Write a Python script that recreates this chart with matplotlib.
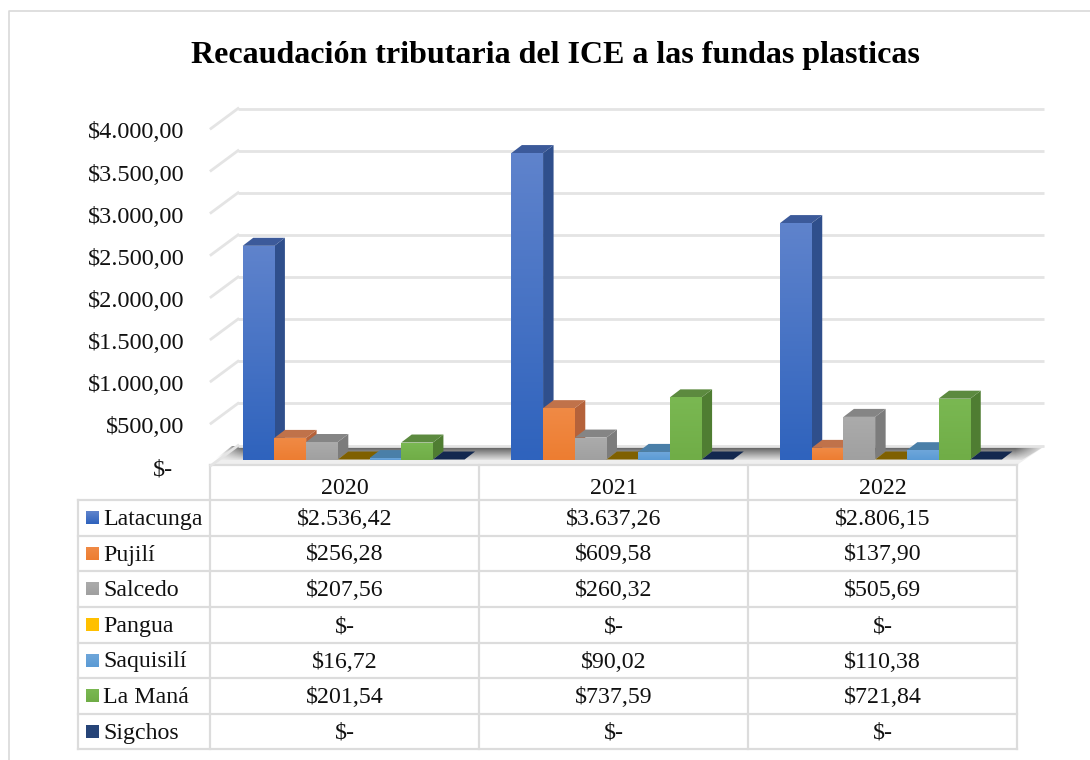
import numpy as np
import matplotlib
matplotlib.use("Agg")
import matplotlib.pyplot as plt
from matplotlib.patches import Polygon
from matplotlib.transforms import ScaledTranslation
from matplotlib.colors import to_rgb

plt.rcParams['font.family'] = ['Liberation Serif', 'DejaVu Sans']

TITLE = "Recaudación tributaria del ICE a las fundas plasticas"
years = ["2020", "2021", "2022"]
municipios = ["Latacunga", "Pujilí", "Salcedo", "Pangua", "Saquisilí", "La Maná", "Sigchos"]
latacunga = [2536.42, 3637.26, 2806.15]
pujili = [256.28, 609.58, 137.90]
salcedo = [207.56, 260.32, 505.69]
pangua = [0, 0, 0]
saquisili = [16.72, 90.02, 110.38]
la_mana = [201.54, 737.59, 721.84]
sigchos = [0, 0, 0]
series = [latacunga, pujili, salcedo, pangua, saquisili, la_mana, sigchos]
ticks = [0, 500, 1000, 1500, 2000, 2500, 3000, 3500, 4000]

# front (top, bottom), side, top-face colours
colors = [("#5f83cc", "#2f63bd", "#2f4f8c", "#3c5a9a"),
          ("#f08a45", "#ed7d31", "#b5623a", "#c0724a"),
          ("#ababab", "#a0a0a0", "#7c7c7c", "#858585"),
          ("#ffc000", "#ffc000", "#7f6000", "#7f6000"),
          ("#6ea6da", "#5b9bd5", "#3f7098", "#4a7fa8"),
          ("#7ab852", "#70ad47", "#4f7d32", "#5c8a3f"),
          ("#264478", "#264478", "#13284f", "#13284f")]


def money(v):
    if v == 0:
        return "$-"
    s = f"{v:,.2f}".replace(",", "#").replace(".", ",").replace("#", ".")
    return "$" + s


W, H = 1090, 760
fig = plt.figure(figsize=(W / 100, H / 100), dpi=100, facecolor="white")

# page-pixel layer
bg = fig.add_axes([0, 0, 1, 1], zorder=1)
bg.set_xlim(0, W)
bg.set_ylim(H, 0)
bg.axis("off")

# value layer
L, R, Y0, Y4 = 211, 1017, 465.5, 128.5
ax = fig.add_axes([L / W, 1 - Y0 / H, (R - L) / W, (Y0 - Y4) / H], zorder=2)
ax.set_xlim(0, 3)
ax.set_ylim(0, 4000)
ax.patch.set_alpha(0)
for s in ax.spines.values():
    s.set_visible(False)
ux = 3 / (R - L)
uy = 4000 / (Y0 - Y4)

GRID = "#e4e4e4"
# outer frame
bg.plot([9, 9, W], [H, 11, 11], color="#d9d9d9", lw=1.2)

# floor and its shadow
bg.add_patch(Polygon([(211, 465), (1017, 465), (1045, 446), (238, 446)],
                     fc="#efefef", ec="none", zorder=1))
ramp_y = np.linspace(0.66, 0.06, 40)
xs = np.linspace(0, 1, 800)
fade_x = np.clip(np.minimum(xs / 0.035, (1 - xs) / 0.035), 0, 1)
rgba = np.zeros((40, 800, 4))
rgba[..., 3] = ramp_y[:, None] * fade_x[None, :]
im = bg.imshow(rgba, extent=[214, 1045, 460, 446], aspect="auto", zorder=2,
               interpolation="bilinear")
clip = Polygon([(232, 446), (1045, 446), (1022, 460), (214, 460)], transform=bg.transData)
im.set_clip_path(clip)
bg.set_xlim(0, W)
bg.set_ylim(H, 0)

# gridlines on back and side walls
WX, WY = 27 * ux, 20 * uy
for v in ticks:
    ax.plot([WX, 3 + WX], [v + WY, v + WY], color=GRID, lw=2, clip_on=False, zorder=1,
            solid_capstyle="butt")
    ax.plot([0, WX], [v, v + WY], color=GRID, lw=2, clip_on=False, zorder=1)

# bars
BW = 0.1180
START = 0.1180
DX, DY = 10.5 * ux, 8 * uy
FY = 6 * uy
z = 3
for g in range(len(years)):
    for i, vals in enumerate(series):
        v = vals[g]
        x0 = g + START + i * BW
        x1 = x0 + BW
        top, bot, side, topc = colors[i]
        yb, yt = FY, FY + v
        ax.add_patch(Polygon([(x1, yb), (x1 + DX, yb + DY), (x1 + DX, yt + DY), (x1, yt)],
                             fc=side, ec="none", zorder=z, clip_on=False))
        ax.add_patch(Polygon([(x0, yt), (x1, yt), (x1 + DX, yt + DY), (x0 + DX, yt + DY)],
                             fc=topc, ec="none", zorder=z, clip_on=False))
        if v > 0:
            c0, c1 = np.array(to_rgb(top)), np.array(to_rgb(bot))
            t = np.linspace(0, 1, 64)[:, None, None]
            ax.imshow(c0 * (1 - t) + c1 * t, extent=[x0, x1, yb, yt], aspect="auto",
                      zorder=z, clip_on=False, interpolation="bilinear")
        z += 1
ax.set_xlim(0, 3)
ax.set_ylim(0, 4000)

# value axis labels
ax.set_xticks([])
ax.set_yticks(ticks)
ax.set_yticklabels([money(v) for v in ticks], fontsize=17.5, color="#111111")
ax.tick_params(axis="y", length=0, pad=19)
for k, lab in enumerate(ax.get_yticklabels()):
    sx = -12 / 100 if k == 0 else 0
    lab.set_transform(lab.get_transform() + ScaledTranslation(sx, -2 / 100, fig.dpi_scale_trans))

# title
bg.text(555, 56, TITLE, ha="center", va="center", fontsize=23, fontweight="bold", color="black")

# data table
col_x = [78, 210, 479, 748, 1017]
row_y = [465, 500, 536, 571, 607, 643, 678, 714, 749]
LINE = "#dcdcdc"
for x in col_x[1:]:
    bg.plot([x, x], [row_y[0], row_y[-1]], color=LINE, lw=1.6, zorder=3)
bg.plot([col_x[0], col_x[0]], [row_y[1], row_y[-1]], color=LINE, lw=1.6, zorder=3)
bg.plot([col_x[1], col_x[-1]], [row_y[0], row_y[0]], color=LINE, lw=1.6, zorder=3)
for y in row_y[1:]:
    bg.plot([col_x[0], col_x[-1]], [y, y], color=LINE, lw=1.6, zorder=3)

TS = 17.2
for j, yr in enumerate(years):
    bg.text((col_x[j + 1] + col_x[j + 2]) / 2, (row_y[0] + row_y[1]) / 2 + 6, yr,
            ha="center", va="center", fontsize=TS, color="#111111")
for i, name in enumerate(municipios):
    cy = (row_y[i + 1] + row_y[i + 2]) / 2
    c0, c1 = np.array(to_rgb(colors[i][0])), np.array(to_rgb(colors[i][1]))
    t = np.linspace(0, 1, 16)[:, None, None]
    bg.imshow(c0 * (1 - t) + c1 * t, extent=[86, 99, cy + 6.5, cy - 6.5], aspect="auto", zorder=4)
    bg.text(103, cy + 1.5, name, ha="left", va="center", fontsize=TS, color="#111111")
    for j in range(len(years)):
        bg.text((col_x[j + 1] + col_x[j + 2]) / 2, cy + 1.5, money(series[i][j]),
                ha="center", va="center", fontsize=TS, color="#111111")
bg.set_xlim(0, W)
bg.set_ylim(H, 0)

fig.savefig("out.png", dpi=100, facecolor="white")
